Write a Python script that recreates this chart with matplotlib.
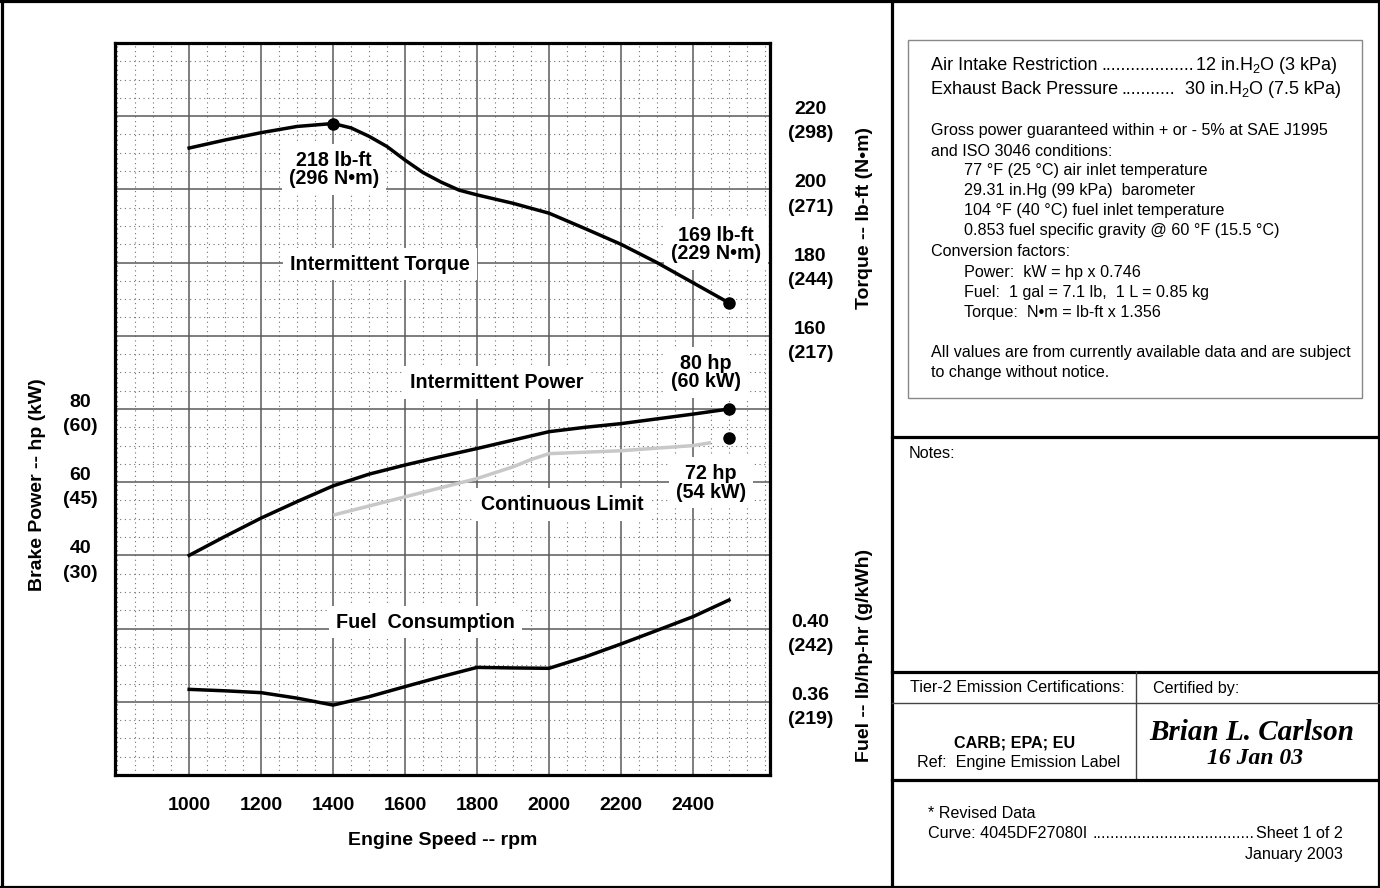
import numpy as np
import matplotlib.pyplot as plt
from matplotlib.lines import Line2D
from matplotlib.patches import Rectangle

plt.rcParams['font.family'] = ['Liberation Sans', 'DejaVu Sans']
plt.rcParams['mathtext.fontset'] = 'custom'
plt.rcParams['mathtext.rm'] = 'Liberation Sans'
plt.rcParams['mathtext.it'] = 'Liberation Sans:italic'
plt.rcParams['mathtext.bf'] = 'Liberation Sans:bold'

# ---- data ----
torque_rpm = [1000, 1100, 1200, 1300, 1400, 1450, 1500, 1550, 1600, 1650, 1700,
              1750, 1800, 1900, 2000, 2100, 2200, 2300, 2400, 2500]
torque_lbft = [211.3, 213.5, 215.5, 217.2, 218.0, 216.8, 214.5, 211.7, 208.0, 204.6, 202.0,
               199.8, 198.5, 196.2, 193.5, 189.3, 185.0, 180.0, 174.5, 169.0]

rpm = [1000, 1100, 1200, 1300, 1400, 1500, 1600, 1700, 1800,
       1900, 2000, 2100, 2200, 2300, 2400, 2500]
power_hp = [40.0, 45.2, 50.2, 54.7, 59.0, 62.2, 64.7, 67.0, 69.2,
            71.5, 73.8, 75.0, 76.0, 77.3, 78.6, 80.0]
fuel_lb_hphr = [0.3668, 0.3660, 0.3650, 0.3620, 0.3582, 0.3628, 0.3683, 0.3737, 0.3788,
                0.3785, 0.3783, 0.3845, 0.3916, 0.3990, 0.4065, 0.4156]

cont_rpm = [1400, 1600, 1800, 1900, 1950, 2000, 2200, 2400, 2450]
cont_hp = [51.0, 56.0, 61.0, 64.2, 66.2, 67.8, 68.6, 70.0, 70.8]

peak_torque = (1400, 218)
rated_torque = (2500, 169)
rated_power = (2500, 80)
rated_cont = (2500, 72)

speed_ticks = [1000, 1200, 1400, 1600, 1800, 2000, 2200, 2400]
power_ticks = [40, 60, 80]
power_tick_labels = ['40\n(30)', '60\n(45)', '80\n(60)']
torque_ticks = [160, 180, 200, 220]
torque_tick_labels = ['160\n(217)', '180\n(244)', '200\n(271)', '220\n(298)']
fuel_ticks = [0.36, 0.40]
fuel_tick_labels = ['0.36\n(219)', '0.40\n(242)']

W, H = 1380, 888
fig = plt.figure(figsize=(13.8, 8.88), dpi=100)


def fx(x):
    return x / W


def fy(y):
    return 1 - y / H


# ---- chart ----
ax = fig.add_axes([fx(115), fy(775), (770 - 115) / W, (775 - 43) / H])
ax.set_xlim(794, 2614)
ax.set_ylim(0, 10)
ax.set_xticks(speed_ticks, labels=[str(s) for s in speed_ticks])
ax.set_xticks(np.arange(800, 2601, 50), minor=True)
ax.set_yticks(np.arange(1, 10))
ax.set_yticks(np.arange(0, 10.01, 0.25), minor=True)
ax.grid(which='major', color='#5a5a5a', lw=1.1)
ax.grid(which='minor', color='#707070', lw=0.8, ls=(0, (1, 3.2)))
ax.tick_params(which='both', length=0)
ax.tick_params(axis='y', labelleft=False)
ax.tick_params(axis='x', pad=16, labelsize=14)
for lbl in ax.get_xticklabels():
    lbl.set_fontweight('bold')
for s in ax.spines.values():
    s.set_linewidth(2.3)
    s.set_color('black')

lab = dict(fontsize=14.2, fontweight='bold', ha='center', va='center',
           linespacing=0.95, zorder=2.5,
           bbox=dict(facecolor='white', edgecolor='none', pad=5))
ax.text(1403, 8.27, '218 lb-ft\n(296 N•m)', **lab)
ax.text(1531, 6.98, 'Intermittent Torque', **lab)
ax.text(2464, 7.25, '169 lb-ft\n(229 N•m)', **lab)
ax.text(1856, 5.36, 'Intermittent Power', **lab)
ax.text(2436, 5.50, '80 hp\n(60 kW)', **lab)
ax.text(2450, 3.99, '72 hp\n(54 kW)', **lab)
ax.text(2036, 3.69, 'Continuous Limit', **lab)
ax.text(1656, 2.09, 'Fuel  Consumption', **lab)


def twin(lo, hi):
    t = ax.twinx()
    t.set_ylim(lo, hi)
    for s in t.spines.values():
        s.set_visible(False)
    t.tick_params(length=0, labelsize=14)
    return t


# power: 40 hp on grid line 3, 20 hp per division
ax_p = twin(-20, 180)
ax_p.yaxis.set_ticks_position('left')
ax_p.set_yticks(power_ticks, labels=power_tick_labels)
ax_p.tick_params(pad=25)
# torque: 220 lb-ft on grid line 9
ax_t = twin(40, 240)
ax_t.set_yticks(torque_ticks, labels=torque_tick_labels)
ax_t.tick_params(pad=29)
# fuel: 0.36 on grid line 1, 0.04 per division
ax_f = twin(0.32, 0.72)
ax_f.set_yticks(fuel_ticks, labels=fuel_tick_labels)
ax_f.tick_params(pad=29)
for t in (ax_p, ax_t, ax_f):
    for lbl in t.get_yticklabels():
        lbl.set_fontweight('bold')
        lbl.set_ha('center')
        lbl.set_multialignment('center')
        lbl.set_linespacing(1.55)

ax_p.plot(cont_rpm, cont_hp, color='#c8c8c8', lw=2.5, solid_capstyle='butt',
          solid_joinstyle='round')
ax_p.plot(rpm, power_hp, color='black', lw=2.5, solid_joinstyle='round')
ax_p.plot(*zip(rated_power, rated_cont), 'o', color='black', ms=8)
ax_t.plot(torque_rpm, torque_lbft, color='black', lw=2.5, solid_joinstyle='round')
ax_t.plot(*zip(peak_torque, rated_torque), 'o', color='black', ms=8)
ax_f.plot(rpm, fuel_lb_hphr, color='black', lw=2.5, solid_joinstyle='round')

axl = dict(fontsize=14, fontweight='bold', ha='center', va='center')
fig.text(fx(443), fy(840), 'Engine Speed -- rpm', **axl)
fig.text(fx(38), fy(485), 'Brake Power -- hp (kW)', rotation=90, **axl)
fig.text(fx(864), fy(218), 'Torque -- lb-ft (N•m)', rotation=90, **axl)
fig.text(fx(864), fy(655), 'Fuel -- lb/hp-hr (g/kWh)', rotation=90, **axl)


# ---- page frame ----
def hline(y, x0, x1, lw=2.3, color='black'):
    fig.add_artist(Line2D([fx(x0), fx(x1)], [fy(y), fy(y)], lw=lw, color=color))


def vline(x, y0, y1, lw=2.3, color='black'):
    fig.add_artist(Line2D([fx(x), fx(x)], [fy(y0), fy(y1)], lw=lw, color=color))


hline(1.5, 0, W)
hline(886.5, 0, W)
vline(1.5, 0, H)
vline(1378.5, 0, H)
vline(892, 0, H)
hline(437, 892, W)
hline(672, 892, W)
hline(703, 892, W, lw=1.0, color='#444444')
vline(1136, 672, 780, lw=1.0, color='#444444')
hline(780, 892, W)
fig.add_artist(Rectangle((fx(908), fy(398)), (1362 - 908) / W, (398 - 40) / H,
                         fill=False, lw=1.0, edgecolor='#888888'))

# ---- notes panel ----
big = dict(fontsize=13, va='center')
fig.text(fx(931), fy(66), 'Air Intake Restriction', **big)
fig.text(fx(1101), fy(66), '...................', **big)
fig.text(fx(1338), fy(66), r'12 in.H$_2$O (3 kPa)', ha='right', fontsize=13, va='center')
fig.text(fx(931), fy(89), 'Exhaust Back Pressure', **big)
fig.text(fx(1121), fy(89), '...........', **big)
fig.text(fx(1342), fy(89), r'30 in.H$_2$O (7.5 kPa)', ha='right', fontsize=13, va='center')

small = dict(fontsize=11.6, va='center')
notes = [
    (931, 131, 'Gross power guaranteed within + or - 5% at SAE J1995'),
    (931, 151, 'and ISO 3046 conditions:'),
    (964, 171, '77 °F (25 °C) air inlet temperature'),
    (964, 191, '29.31 in.Hg (99 kPa)  barometer'),
    (964, 211, '104 °F (40 °C) fuel inlet temperature'),
    (964, 231, '0.853 fuel specific gravity @ 60 °F (15.5 °C)'),
    (931, 251, 'Conversion factors:'),
    (964, 272, 'Power:  kW = hp x 0.746'),
    (964, 292, 'Fuel:  1 gal = 7.1 lb,  1 L = 0.85 kg'),
    (964, 312, 'Torque:  N•m = lb-ft x 1.356'),
    (931, 352, 'All values are from currently available data and are subject'),
    (931, 372, 'to change without notice.'),
]
for x, y, s in notes:
    fig.text(fx(x), fy(y), s, **small)

fig.text(fx(909), fy(453), 'Notes:', **small)
fig.text(fx(910), fy(688), 'Tier-2 Emission Certifications:', **small)
fig.text(fx(1153), fy(688), 'Certified by:', **small)
fig.text(fx(1015), fy(743), 'CARB; EPA; EU', ha='center', fontweight='bold', **small)
fig.text(fx(1019), fy(762), 'Ref:  Engine Emission Label', ha='center', **small)
fig.text(fx(1252), fy(733), 'Brian L. Carlson', ha='center', va='center', fontsize=21,
         family='Liberation Serif', style='italic', fontweight='bold')
fig.text(fx(1255), fy(758), '16 Jan 03', ha='center', va='center', fontsize=17,
         family='Liberation Serif', style='italic', fontweight='bold')

fig.text(fx(928), fy(813), '* Revised Data', **small)
fig.text(fx(928), fy(833), 'Curve: 4045DF27080I', **small)
fig.text(fx(1092), fy(833), '....................................', **small)
fig.text(fx(1343), fy(833), 'Sheet 1 of 2', ha='right', **small)
fig.text(fx(1343), fy(854), 'January 2003', ha='right', **small)

fig.savefig('out.png', dpi=100)
